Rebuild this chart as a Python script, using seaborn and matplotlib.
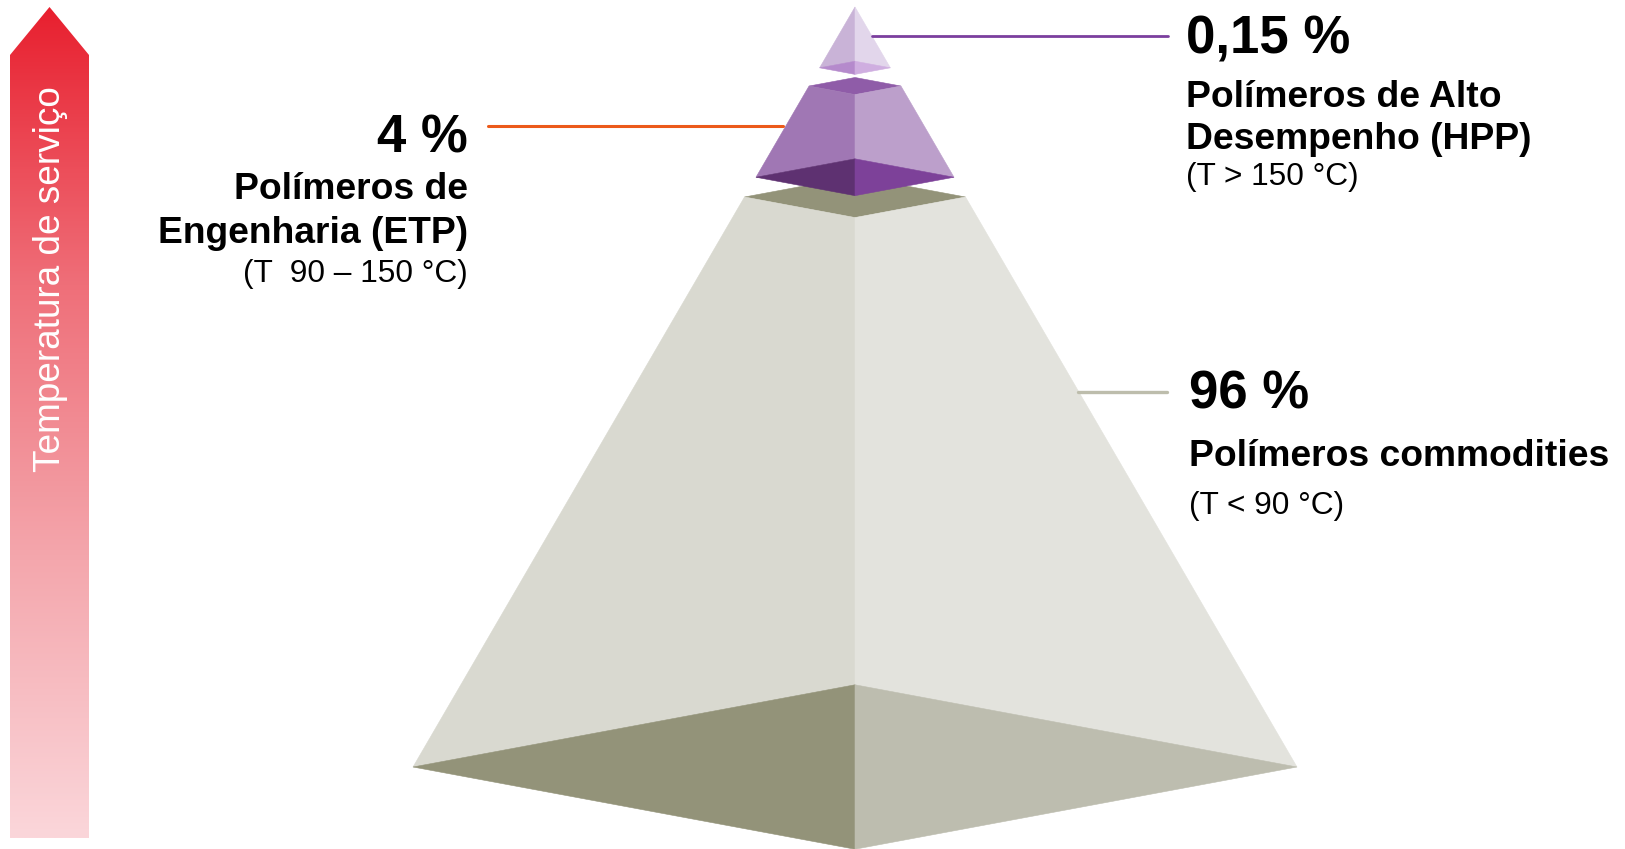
import numpy as np
import pandas as pd
import matplotlib
matplotlib.use("Agg")
import matplotlib.pyplot as plt
from matplotlib.patches import Polygon
from matplotlib.colors import LinearSegmentedColormap
import seaborn as sns

# ---- data -------------------------------------------------------------
segments = [["Polímeros de Alto", "Desempenho (HPP)"],
            ["Polímeros de", "Engenharia (ETP)"],
            ["Polímeros commodities"]]
share_labels = ["0,15 %", "4 %", "96 %"]
temp_labels = ["(T > 150 °C)", "(T  90 – 150 °C)", "(T < 90 °C)"]
axis_label = "Temperatura de serviço"

# slice boundaries of each tier along the pyramid height (0 = apex, 1 = base)
tier_start = [0.0, 0.104, 0.25]
tier_end = [0.080, 0.224, 1.0]

# face colours per tier: top, left, right, bottom-left, bottom-right
tier_colors = [
    dict(top=None, left="#c9b3d7", right="#e2d6eb", bl="#b58acc", br="#cfaee0"),
    dict(top="#8f5ca8", left="#a077b4", right="#bc9fcb", bl="#5e3171", br="#7d4199"),
    dict(top="#939379", left="#d9d9d0", right="#e3e3dd", bl="#939379", br="#bdbdaf"),
]
leader_colors = ["#7b3f9e", "#ec5a1a", "#bdbdac"]

# ---- styling ----------------------------------------------------------
sns.set_theme(style="white")
plt.rcParams["font.family"] = ["Liberation Sans", "DejaVu Sans"]

W, H = 1625, 849
fig = plt.figure(figsize=(W / 100, H / 100), dpi=100)
ax = fig.add_axes([0, 0, 1, 1])
ax.set_xlim(0, W)
ax.set_ylim(H, 0)
ax.axis("off")

# ---- pyramid ----------------------------------------------------------
cx, apex_y, base_y = 855.0, 7.0, 767.0
half_base = 442.0
depth = 0.186          # vertical squash of the square cross-section


def section(t):
    """Diamond-shaped cross section at relative height t."""
    y = apex_y + t * (base_y - apex_y)
    w = half_base * t
    d = depth * w
    return dict(l=(cx - w, y), r=(cx + w, y), b=(cx, y - d), f=(cx, y + d))


# draw from the base upwards so higher tiers overlap the lower ones
for t0, t1, col in reversed(list(zip(tier_start, tier_end, tier_colors))):
    top, bot = section(t0), section(t1)
    faces = []
    if col["top"] is not None:
        faces.append(([top["l"], top["b"], top["r"], top["f"]], col["top"]))
    faces.append(([top["l"], top["f"], bot["b"], bot["l"]], col["left"]))
    faces.append(([top["r"], top["f"], bot["b"], bot["r"]], col["right"]))
    faces.append(([bot["l"], bot["b"], bot["f"]], col["bl"]))
    faces.append(([bot["r"], bot["b"], bot["f"]], col["br"]))
    for pts, c in faces:
        ax.add_patch(Polygon(pts, closed=True, facecolor=c, edgecolor=c,
                             linewidth=0.4, antialiased=True))

# ---- temperature arrow ------------------------------------------------
arrow_pts = [(10, 838), (10, 55), (49.5, 7), (89, 55), (89, 838)]
arrow = Polygon(arrow_pts, closed=True, facecolor="none", edgecolor="none")
ax.add_patch(arrow)
grad_cmap = LinearSegmentedColormap.from_list(
    "temp", ["#e8202f", "#ef6f79", "#f4a7ad", "#fbd6da"])
grad = np.linspace(0, 1, 400).reshape(-1, 1)
img = ax.imshow(grad, cmap=grad_cmap, extent=(10, 89, 838, 7),
                origin="upper", aspect="auto", interpolation="bicubic")
img.set_clip_path(arrow)
ax.text(51, 279, axis_label, rotation=90, color="white", fontsize=26.6,
        ha="center", va="center")

# ---- leader lines -----------------------------------------------------
leaders = pd.DataFrame({
    "x0": [872, 488, 1078], "x1": [1168, 783, 1167], "y": [36, 126, 392],
    "lw": [2.0, 2.2, 2.4],
})
for (_, row), c in zip(leaders.iterrows(), leader_colors):
    sns.lineplot(x=[row.x0, row.x1], y=[row.y, row.y], ax=ax, color=c,
                 linewidth=row.lw, legend=False)

# ---- labels -----------------------------------------------------------
big, mid, small = 38, 26.8, 22.8


def label_block(x, ha, share_y, name_y, step, temp_y, i):
    ax.text(x, share_y, share_labels[i], fontsize=big, fontweight="bold",
            ha=ha, va="baseline", color="black")
    for k, line in enumerate(segments[i]):
        ax.text(x, name_y + k * step, line, fontsize=mid,
                fontweight="bold", ha=ha, va="baseline", color="black")
    ax.text(x, temp_y, temp_labels[i], fontsize=small, ha=ha,
            va="baseline", color="black")


label_block(1186, "left", 53, 107, 42, 185, 0)     # HPP
label_block(468, "right", 152, 199, 44, 282, 1)    # ETP
label_block(1189, "left", 408, 466, 0, 514, 2)     # commodities

fig.savefig("out.png", dpi=100, facecolor="white")
